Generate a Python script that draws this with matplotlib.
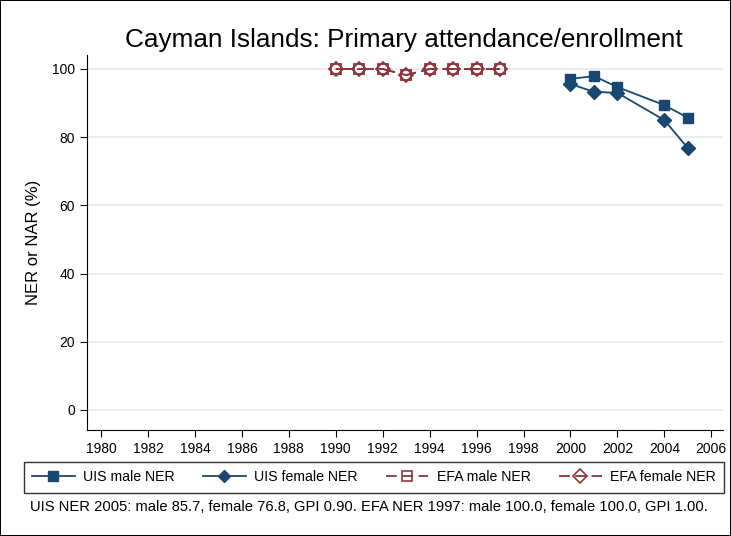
import numpy as np
import matplotlib.pyplot as plt
from matplotlib.lines import Line2D

# data
uis_years = [2000, 2001, 2002, 2004, 2005]
uis_male = [97.1, 97.9, 94.7, 89.4, 85.7]
uis_female = [95.6, 93.3, 93.0, 85.0, 76.8]

efa_years = [1990, 1991, 1992, 1993, 1994, 1995, 1996, 1997]
efa_male = [100.0, 100.0, 100.0, 98.2, 100.0, 100.0, 100.0, 100.0]
efa_female = [100.0, 100.0, 100.0, 98.2, 100.0, 100.0, 100.0, 100.0]

xticks = list(range(1980, 2007, 2))
yticks = [0, 20, 40, 60, 80, 100]

navy = '#1a476f'
maroon = '#90353b'

plt.rcParams['font.family'] = ['Liberation Sans', 'DejaVu Sans']

fig = plt.figure(figsize=(7.31, 5.36), dpi=100)
fig.patch.set_edgecolor('black')
fig.patch.set_linewidth(1.2)
ax = fig.add_axes([87/731, 1 - 430/536, (723-87)/731, (430-55)/536])

ax.plot(uis_years, uis_male, color=navy, marker='s', markersize=7.5, lw=1.3)
ax.plot(uis_years, uis_female, color=navy, marker='D', markersize=7, lw=1.3)
ax.plot(efa_years, efa_male, color=maroon, marker='s', markersize=6.5, mfc='none',
        mew=1.3, lw=1.3, dashes=(9, 3))
ax.plot(efa_years, efa_female, color=maroon, marker='D', markersize=7, mfc='none',
        mew=1.3, lw=1.3, dashes=(9, 3))

ax.set_xlim(1979.4, 2006.5)
ax.set_ylim(-5.9, 104.1)
ax.set_xticks(xticks)
ax.set_yticks(yticks)
ax.tick_params(labelsize=10, length=5, color='black')
ax.yaxis.grid(True, color='#e6ebef', lw=1.2)
ax.set_axisbelow(True)
for s in ['top', 'right']:
    ax.spines[s].set_visible(False)
ax.set_ylabel('NER or NAR (%)', fontsize=12, labelpad=8)

fig.text(404/731, 1 - 40/536, 'Cayman Islands: Primary attendance/enrollment',
         ha='center', va='center', fontsize=18.8)

handles = [
    Line2D([], [], color=navy, marker='s', markersize=7, lw=1.3),
    Line2D([], [], color=navy, marker='D', markersize=6.5, lw=1.3),
    Line2D([], [], color=maroon, marker='s', markersize=6.5, mfc='none', mew=1.2, lw=1.3, dashes=(6, 3)),
    Line2D([], [], color=maroon, marker='D', markersize=7, mfc='none', mew=1.2, lw=1.3, dashes=(6, 3)),
]
labels = ['UIS male NER', 'UIS female NER', 'EFA male NER', 'EFA female NER']
leg = fig.legend(handles, labels, loc='center', bbox_to_anchor=(374/731, 1 - 477/536),
                 ncol=4, fontsize=10.2, frameon=True, fancybox=False, edgecolor='black',
                 handlelength=3.0, handletextpad=0.6, columnspacing=2.0, borderpad=0.6)
leg.get_frame().set_linewidth(1.0)

fig.text(30/731, 1 - 507/536,
         'UIS NER 2005: male 85.7, female 76.8, GPI 0.90. EFA NER 1997: male 100.0, female 100.0, GPI 1.00.',
         ha='left', va='center', fontsize=10.6)

plt.savefig('out.png', dpi=100)
